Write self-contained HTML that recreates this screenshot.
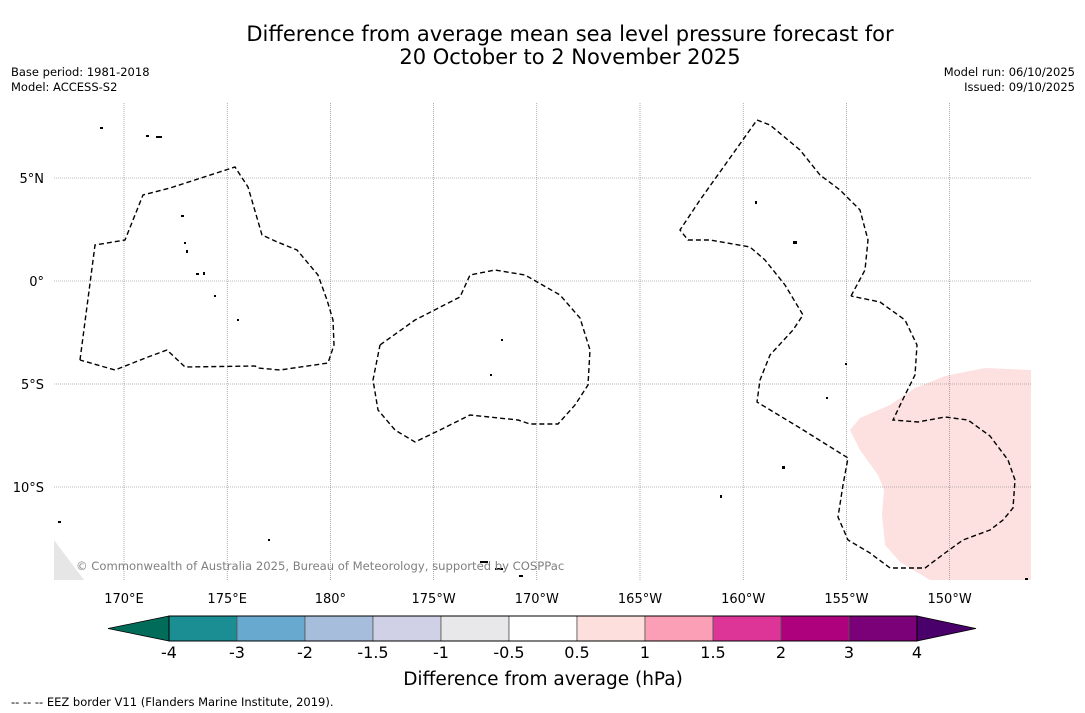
<!DOCTYPE html>
<html><head><meta charset="utf-8">
<style>
body{margin:0;background:#fff;width:1085px;height:713px;overflow:hidden;font-family:"DejaVu Sans","Liberation Sans",sans-serif;}
svg{position:absolute;left:0;top:0}
</style></head><body>
<svg width="1085" height="713" viewBox="0 0 1085 713">
<text x="570" y="41" font-size="21" text-anchor="middle">Difference from average mean sea level pressure forecast for</text>
<text x="570" y="64" font-size="21" text-anchor="middle">20 October to 2 November 2025</text>
<text x="11" y="76" font-size="11.5">Base period: 1981-2018</text>
<text x="11" y="91" font-size="11.5">Model: ACCESS-S2</text>
<text x="1075" y="76" font-size="11.5" text-anchor="end">Model run: 06/10/2025</text>
<text x="1075" y="91" font-size="11.5" text-anchor="end">Issued: 09/10/2025</text>

<g>
<polygon points="54,540 84,580 54,580" fill="#e6e6e6"/>
<path d="M1031,370 L985,368 L945,376 L915,388 L890,405 L860,418 L850,430 L860,450 L878,475 L884,490 L882,515 L885,545 L900,562 L930,580 L1031,580 Z" fill="#fde0e0"/>
<g id="grid"></g>
<g fill="none" stroke="#000" stroke-width="1.4" stroke-dasharray="5,3">
<polyline points="80,360 95,245 125,240 143,195 170,188 235,167 248,187 262,235 275,241 297,250 318,275 327,300 333,320 334,345 328,363 280,370 258,368 255,366 185,367 167,350 148,357 115,370 80,360"/>
<polyline points="380,345 415,320 460,297 470,275 495,270 525,275 560,295 580,318 590,350 588,385 575,405 558,424 530,424 518,420 470,415 440,430 415,442 395,430 378,410 373,380 380,345"/>
<polyline points="851,296 865,270 868,240 860,210 840,190 820,175 800,150 770,125 757,120 700,200 680,230 688,240 710,240 750,247 765,260 785,285 803,315 793,330 770,355 760,380 757,402 800,428 848,458 843,485 838,517 848,540 870,553 890,568 925,568 945,553 963,540 990,530 1003,520 1013,508 1015,480 1008,460 990,436 968,420 945,417 918,422 893,420 905,395 915,375 917,345 905,320 880,302 851,296"/>
</g>
<g fill="#000">
<rect x="146" y="135" width="3" height="2"/><rect x="156" y="136" width="6" height="2"/><rect x="100" y="127" width="3" height="2"/><rect x="181" y="215" width="3" height="2"/><rect x="184" y="242" width="2" height="2"/><rect x="186" y="250" width="2" height="3"/><rect x="196" y="273" width="3" height="2"/><rect x="203" y="272" width="2" height="3"/><rect x="214" y="295" width="2" height="2"/><rect x="237" y="319" width="2" height="2"/><rect x="501" y="339" width="2" height="2"/><rect x="490" y="374" width="2" height="2"/><rect x="755" y="201" width="2" height="3"/><rect x="793" y="241" width="4" height="3"/><rect x="782" y="466" width="3" height="3"/><rect x="720" y="495" width="2" height="3"/><rect x="480" y="561" width="8" height="2"/><rect x="495" y="568" width="8" height="2"/><rect x="519" y="575" width="4" height="2"/><rect x="58" y="521" width="3" height="2"/><rect x="268" y="539" width="2" height="2"/><rect x="826" y="397" width="2" height="2"/><rect x="845" y="363" width="2" height="2"/><rect x="1025" y="578" width="3" height="2"/>
</g>
<text x="76" y="570" font-size="11.6" fill="#808080">© Commonwealth of Australia 2025, Bureau of Meteorology, supported by COSPPac</text>
</g>
<g id="labels" font-size="13"></g>
<g id="cbar"></g>
<text x="543" y="685" font-size="18.5" text-anchor="middle">Difference from average (hPa)</text>
<text x="11" y="706" font-size="11.5">--  --  -- EEZ border V11 (Flanders Marine Institute, 2019).</text>
</svg>
<script>
const lonTicks=[170,175,180,185,190,195,200,205,210];
const lonLabels=["170°E","175°E","180°","175°W","170°W","165°W","160°W","155°W","150°W"];
const latTicks=[5,0,-5,-10];
const latLabels=["5°N","0°","5°S","10°S"];
const cbarBounds=["-4","-3","-2","-1.5","-1","-0.5","0.5","1","1.5","2","3","4"];
const cbarColors=["#1b8e93","#67a9cf","#a6bddb","#d0d1e6","#e8e8ea","#ffffff","#fde0dd","#fa9fb5","#dd3497","#ae017e","#7a0177"];
const underColor="#016c59", overColor="#49006a";
const NS="http://www.w3.org/2000/svg";
const X0=54,X1=1031,Y0=103,Y1=580;
function xLon(l){return 124+(l-170)*20.64;}
function yLat(l){return 281-l*20.6;}
const grid=document.getElementById('grid'),labels=document.getElementById('labels'),cb=document.getElementById('cbar');
function mk(tag,attrs,parent){const e=document.createElementNS(NS,tag);for(const k in attrs)e.setAttribute(k,attrs[k]);parent.appendChild(e);return e;}
lonTicks.forEach((l,i)=>{const x=xLon(l);
 const ln=mk('line',{x1:x,x2:x,y1:Y0,y2:Y1,stroke:'#777','stroke-width':0.6,'stroke-dasharray':'1,1'},grid);
 
 
 const t=mk('text',{x:x,y:603,'text-anchor':'middle'},labels);t.textContent=lonLabels[i];
 
 
});
latTicks.forEach((l,i)=>{const y=yLat(l);
 const ln=mk('line',{x1:X0,x2:X1,y1:y,y2:y,stroke:'#777','stroke-width':0.6,'stroke-dasharray':'1,1'},grid);
 
 
 const t=mk('text',{x:44,y:y+5,'text-anchor':'end'},labels);t.textContent=latLabels[i];
 
 
});
const cx0=169,cw=68,cy=616,ch=25;
function cx(i){return cx0+i*cw;}
const u=mk('polygon',{points:`108,${cy+ch/2} ${cx0},${cy} ${cx0},${cy+ch}`,fill:underColor,stroke:'#000','stroke-width':0.8},cb);


const n=cbarColors.length;
const o=mk('polygon',{points:`${cx(n)},${cy} ${cx(n)+59},${cy+ch/2} ${cx(n)},${cy+ch}`,fill:overColor,stroke:'#000','stroke-width':0.8},cb);


cbarColors.forEach((c,i)=>{
 const r=mk('rect',{x:cx(i),y:cy,width:cw,height:ch,fill:c,stroke:'#555','stroke-width':0.8},cb);
 
 
});
mk('rect',{x:cx0,y:cy,width:cw*n,height:ch,fill:'none',stroke:'#000','stroke-width':1},cb);
cbarBounds.forEach((b,i)=>{
 const t=mk('text',{x:cx(i),y:658,'text-anchor':'middle','font-size':16},cb);t.textContent=b;
 
 
});
</script>
</body></html>
